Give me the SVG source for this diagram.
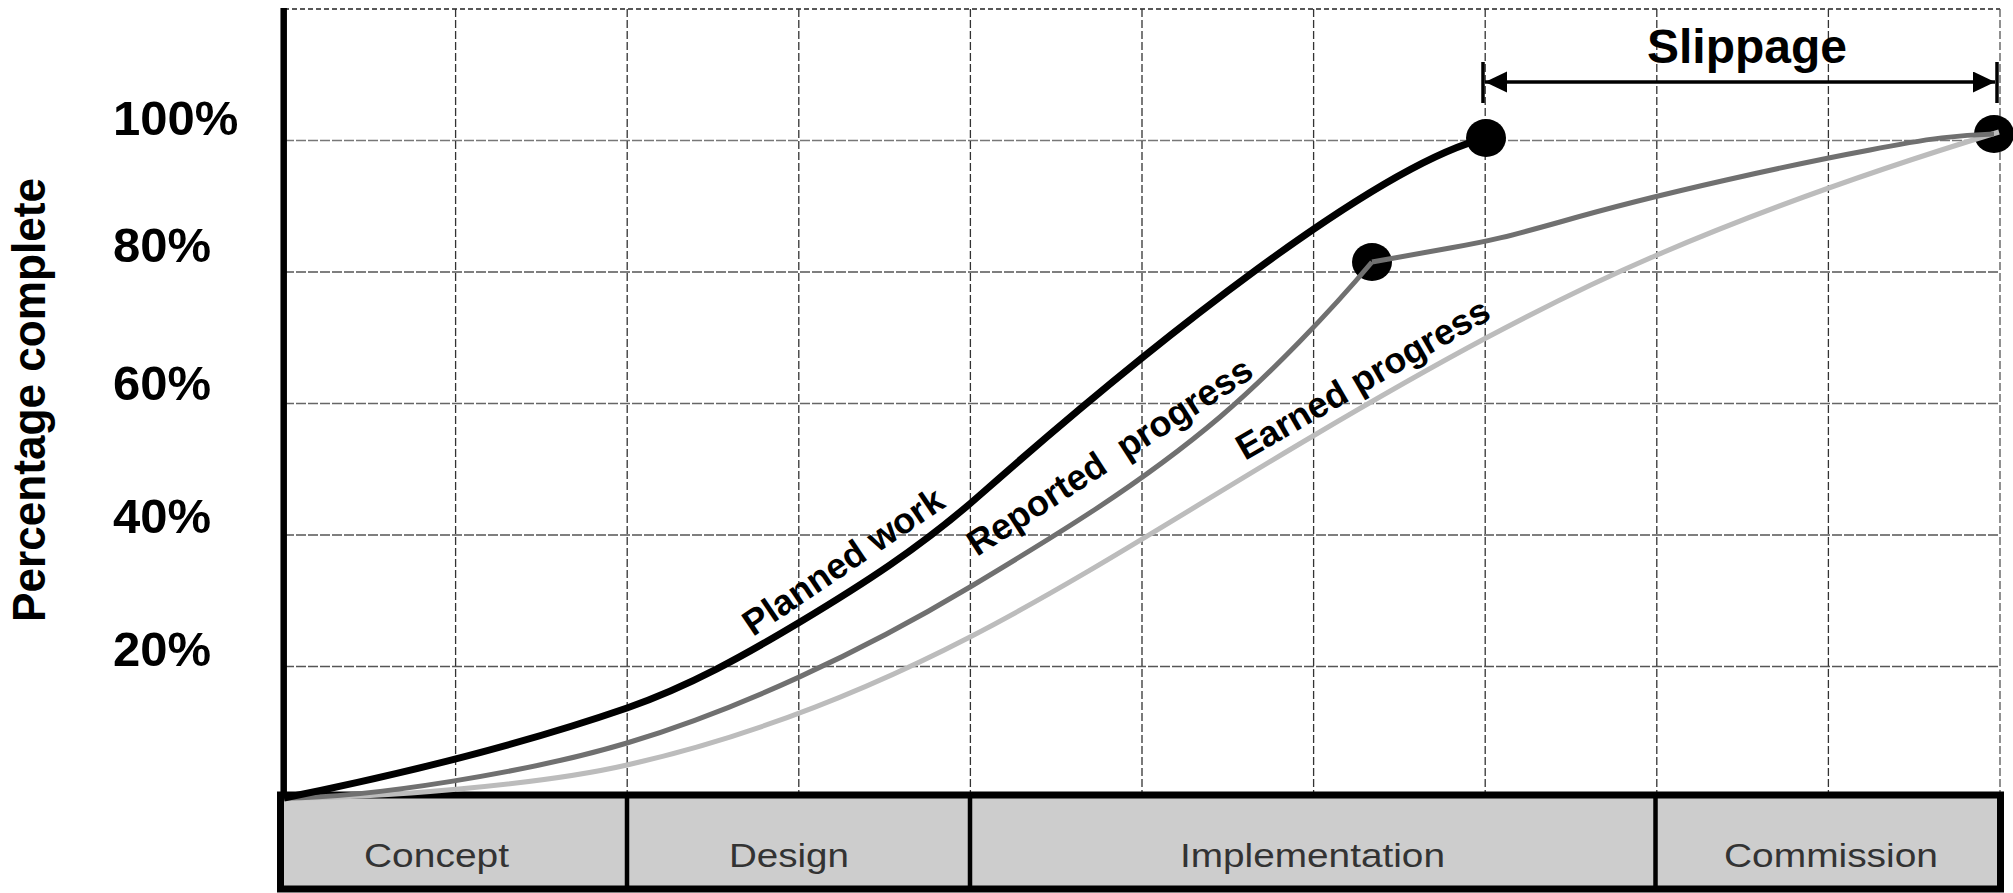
<svg xmlns="http://www.w3.org/2000/svg" width="2013" height="893" viewBox="0 0 2013 893">
<style>
.vgrid{stroke:#333;stroke-width:1.3;stroke-dasharray:8 3;fill:none}
.hgrid{stroke:#555;stroke-width:1.5;stroke-dasharray:10 2;fill:none}
.ylab{font-family:"Liberation Sans",Arial,sans-serif;font-weight:bold;font-size:49px;fill:#000}
.phase{font-family:"Liberation Sans",Arial,sans-serif;font-size:34px;fill:#333}
.curvelab{font-family:"Liberation Sans",Arial,sans-serif;font-weight:bold;font-size:36px;fill:#000;white-space:pre}
.dot{fill:#000}
</style>
<defs>
<marker id="arrow" markerUnits="userSpaceOnUse" markerWidth="24" markerHeight="22" refX="22" refY="10.5" orient="auto-start-reverse">
<path d="M0,0 L22,10.5 L0,21 z" fill="#000"/>
</marker>
</defs>
<rect width="2013" height="893" fill="#fff"/>
<g id="grid">
<line class="hgrid" x1="284" y1="9" x2="2000" y2="9" style="stroke:#222;stroke-dasharray:5 3"/>
<line class="hgrid" x1="284" y1="140.5" x2="2000" y2="140.5" style="stroke:#777"/>
<line class="hgrid" x1="284" y1="272" x2="2000" y2="272"/>
<line class="hgrid" x1="284" y1="403.5" x2="2000" y2="403.5" style="stroke:#666"/>
<line class="hgrid" x1="284" y1="535" x2="2000" y2="535"/>
<line class="hgrid" x1="284" y1="666.5" x2="2000" y2="666.5"/>
<line class="vgrid" x1="455.6" y1="9" x2="455.6" y2="795"/>
<line class="vgrid" x1="627.2" y1="9" x2="627.2" y2="795"/>
<line class="vgrid" x1="798.8" y1="9" x2="798.8" y2="795"/>
<line class="vgrid" x1="970.4" y1="9" x2="970.4" y2="795"/>
<line class="vgrid" x1="1142" y1="9" x2="1142" y2="795"/>
<line class="vgrid" x1="1313.6" y1="9" x2="1313.6" y2="795"/>
<line class="vgrid" x1="1485.2" y1="9" x2="1485.2" y2="795"/>
<line class="vgrid" x1="1656.8" y1="9" x2="1656.8" y2="795"/>
<line class="vgrid" x1="1828.4" y1="9" x2="1828.4" y2="795"/>
<line class="vgrid" x1="2000" y1="9" x2="2000" y2="795" style="stroke:#555"/>
</g>
<g id="axis">
<line x1="283.7" y1="8" x2="283.7" y2="795" stroke="#000" stroke-width="6.5"/>
<text class="ylab" x="113" y="135">100%</text>
<text class="ylab" x="113" y="262">80%</text>
<text class="ylab" x="113" y="400">60%</text>
<text class="ylab" x="113" y="533">40%</text>
<text class="ylab" x="113" y="666">20%</text>
<text x="-222" y="0" transform="translate(45,400) rotate(-90)" textLength="444" lengthAdjust="spacingAndGlyphs" style="font-family:'Liberation Sans',Arial,sans-serif;font-weight:bold;font-size:47px;fill:#000">Percentage complete</text>
</g>
<g id="phases">
<rect x="280.5" y="795" width="1720" height="94" fill="#cdcdcd" stroke="#000" stroke-width="7"/>
<line x1="627" y1="795" x2="627" y2="889" stroke="#000" stroke-width="4.5"/>
<line x1="970" y1="795" x2="970" y2="889" stroke="#000" stroke-width="4.5"/>
<line x1="1655.5" y1="795" x2="1655.5" y2="889" stroke="#000" stroke-width="4.5"/>
<g id="phase-concept"><text class="phase" x="364" y="867" textLength="145" lengthAdjust="spacingAndGlyphs">Concept</text></g>
<g id="phase-design"><text class="phase" x="729" y="867" textLength="120" lengthAdjust="spacingAndGlyphs">Design</text></g>
<g id="phase-implementation"><text class="phase" x="1180" y="867" textLength="265" lengthAdjust="spacingAndGlyphs">Implementation</text></g>
<g id="phase-commission"><text class="phase" x="1724" y="867" textLength="214" lengthAdjust="spacingAndGlyphs">Commission</text></g>
</g>
<g id="dots">
<ellipse id="dot-planned" class="dot" cx="1486" cy="138" rx="20" ry="19"/>
<ellipse id="dot-reported" class="dot" cx="1372" cy="262" rx="20" ry="19"/>
<ellipse id="dot-end" class="dot" cx="1994" cy="134" rx="20" ry="19"/>
</g>
<g id="connectors" fill="none">
<path id="earned" d="M284,798 C380,798 540,785 627,765 C741,739 856,696 970,637 C1084,578 1199,503 1313,436 C1428,368 1542,304.5 1657,255 C1770,206.4 1882,167.7 1999,132" stroke="#bcbcbc" stroke-width="5"/>
<path id="reported" d="M284,798 C370,798 530,772 627,743 C737,710 860,653 970,587 C1050,539 1140,485 1220,417 C1270,374.5 1330,312 1372,262 M1372,262 L1450,248 C1490,241 1510,236 1560,222 C1660,193 1800,163 1870,150 C1930,138 1960,135 1994,134" stroke="#707070" stroke-width="5"/>
<path id="planned" d="M284,798 C398,775 520,745 627,708 C690,686 745,655 800,622 C860,586 920,548 980,495 C1150,345 1376,165 1486,138" stroke="#000" stroke-width="7"/>
<line id="slippage-arrow" x1="1485" y1="82" x2="1995" y2="82" stroke="#000" stroke-width="3.5" marker-start="url(#arrow)" marker-end="url(#arrow)"/>
<line x1="1483" y1="62" x2="1483" y2="103" stroke="#000" stroke-width="3.5"/>
<line x1="1997" y1="62" x2="1997" y2="103" stroke="#000" stroke-width="3.5"/>
</g>
<g id="labels">
<text class="curvelab" transform="translate(753,637) rotate(-34)">Planned work</text>
<text class="curvelab" xml:space="preserve" transform="translate(977,557) rotate(-33)">Reported  progress</text>
<text class="curvelab" transform="translate(1245,461) rotate(-30)">Earned progress</text>
<text x="1747" y="63" text-anchor="middle" style="font-family:'Liberation Sans',Arial,sans-serif;font-weight:bold;font-size:48px;fill:#000">Slippage</text>
</g>
</svg>
